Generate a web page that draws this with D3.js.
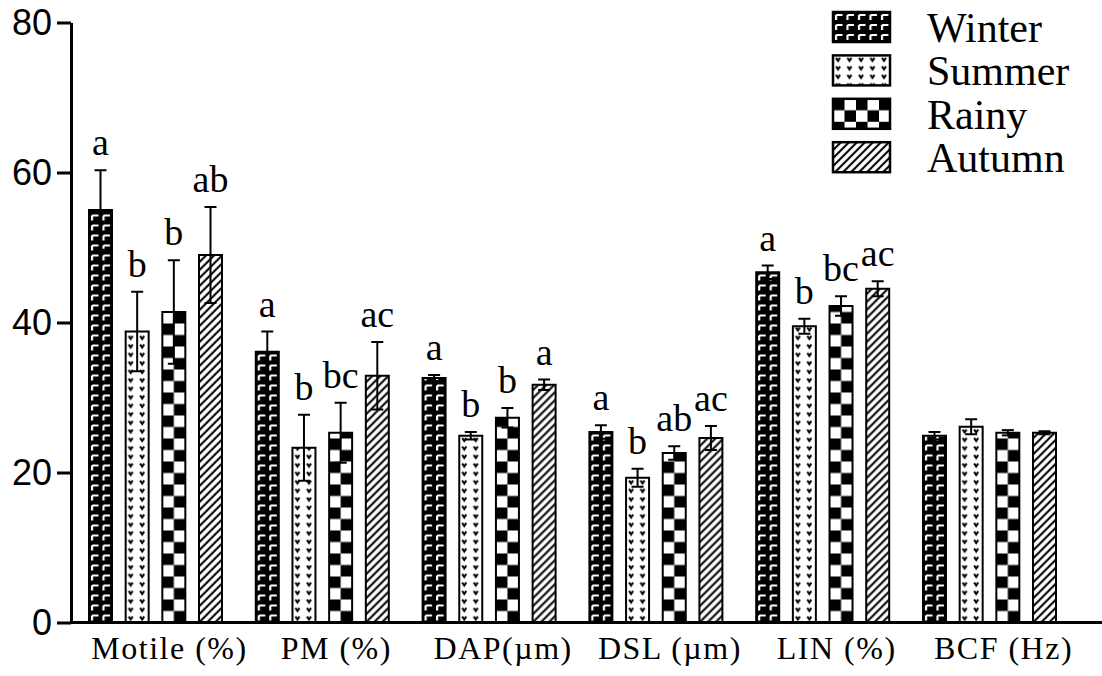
<!DOCTYPE html>
<html>
<head>
<meta charset="utf-8">
<script src="https://cdn.jsdelivr.net/npm/d3@7"></script>
<style>
  body { margin: 0; background: #fff; }
  svg { display: block; }
</style>
</head>
<body>
<div id="chart"></div>
<script>
var categories = ["Motile (%)", "PM (%)", "DAP(\u00b5m)", "DSL (\u00b5m)", "LIN (%)", "BCF (Hz)"];
var seasons = ["Winter", "Summer", "Rainy", "Autumn"];
var winter = [55.0, 36.1, 32.6, 25.4, 46.7, 24.9];
var winterErr = [5.3, 2.7, 0.4, 0.9, 0.9, 0.5];
var summer = [38.8, 23.3, 24.9, 19.3, 39.5, 26.1];
var summerErr = [5.3, 4.4, 0.5, 1.2, 1.0, 1.0];
var rainy = [41.4, 25.3, 27.3, 22.6, 42.2, 25.3];
var rainyErr = [6.9, 4.0, 1.3, 0.9, 1.3, 0.35];
var autumn = [49.0, 32.9, 31.7, 24.6, 44.5, 25.3];
var autumnErr = [6.4, 4.5, 0.7, 1.6, 1.0, 0.2];
var letters = [
  ["a", "b", "b", "ab"],
  ["a", "b", "bc", "ac"],
  ["a", "b", "b", "a"],
  ["a", "b", "ab", "ac"],
  ["a", "b", "bc", "ac"],
  ["", "", "", ""]
];
var yTicks = [0, 20, 40, 60, 80];

var width = 1102, height = 676;
var values = [winter, summer, rainy, autumn];
var errs = [winterErr, summerErr, rainyErr, autumnErr];

var svg = d3.select("#chart").append("svg").attr("width", width).attr("height", height);

// fill patterns, one per season
var defs = svg.append("defs");
var p1 = defs.append("pattern").attr("id", "pat0").attr("patternUnits", "userSpaceOnUse")
  .attr("width", 11.5).attr("height", 10);
p1.append("rect").attr("width", 11.5).attr("height", 10).attr("fill", "#000");
p1.append("path").attr("d", "M3,3 H9.5 M3,3 V8").attr("stroke", "#fff").attr("stroke-width", 2.2).attr("fill", "none");

var p2 = defs.append("pattern").attr("id", "pat1").attr("patternUnits", "userSpaceOnUse")
  .attr("width", 11.5).attr("height", 8.5);
p2.append("rect").attr("width", 11.5).attr("height", 8.5).attr("fill", "#fff");
p2.append("path").attr("d", "M3,2.5 L5,5.5 L7,2.5").attr("stroke", "#000").attr("stroke-width", 2).attr("fill", "none");

var p3 = defs.append("pattern").attr("id", "pat2").attr("patternUnits", "userSpaceOnUse")
  .attr("width", 23).attr("height", 23);
p3.append("rect").attr("width", 23).attr("height", 23).attr("fill", "#fff");
p3.append("rect").attr("width", 11.5).attr("height", 11.5).attr("fill", "#000");
p3.append("rect").attr("x", 11.5).attr("y", 11.5).attr("width", 11.5).attr("height", 11.5).attr("fill", "#000");

var p4 = defs.append("pattern").attr("id", "pat3").attr("patternUnits", "userSpaceOnUse")
  .attr("width", 8).attr("height", 8);
p4.append("rect").attr("width", 8).attr("height", 8).attr("fill", "#fff");
p4.append("path").attr("d", "M-2,10 L10,-2 M-2,2 L2,-2 M6,10 L10,6").attr("stroke", "#000").attr("stroke-width", 2);

var x0 = d3.scaleBand().domain(categories).range([89, 1056]).paddingInner(0.2026).paddingOuter(0);
var x1 = d3.scaleBand().domain(seasons).range([0, x0.bandwidth()]).paddingInner(0.373);
var y = d3.scaleLinear().domain([0, 80]).range([622.5, 22.5]);

// bars, error bars and letters
categories.forEach(function(c, ci) {
  seasons.forEach(function(s, si) {
    var v = values[si][ci], e = errs[si][ci];
    var bx = x0(c) + x1(s);
    var g = svg.append("g").attr("transform", "translate(" + bx + "," + y(0) + ")");
    g.append("rect")
      .attr("x", 0).attr("y", y(v) - y(0))
      .attr("width", x1.bandwidth()).attr("height", y(0) - y(v))
      .attr("fill", "url(#pat" + si + ")")
      .attr("stroke", "#000").attr("stroke-width", 2);
    var cx = bx + x1.bandwidth() / 2;
    var eb = svg.append("g").attr("stroke", "#000").attr("stroke-width", 2);
    eb.append("line").attr("x1", cx).attr("x2", cx).attr("y1", y(v + e)).attr("y2", y(v - e));
    eb.append("line").attr("x1", cx - 6).attr("x2", cx + 6).attr("y1", y(v + e)).attr("y2", y(v + e));
    eb.append("line").attr("x1", cx - 6).attr("x2", cx + 6).attr("y1", y(v - e)).attr("y2", y(v - e));
    if (letters[ci][si]) {
      svg.append("text").attr("x", cx).attr("y", y(v + e) - 15)
        .attr("text-anchor", "middle")
        .style("font-family", "'Liberation Serif', serif").style("font-size", "38px")
        .text(letters[ci][si]);
    }
  });
});

// axes
var yAxis = svg.append("g").attr("transform", "translate(71,0)")
  .call(d3.axisLeft(y).tickValues(yTicks).tickSize(14).tickSizeOuter(0).tickPadding(5));
yAxis.selectAll("path, line").attr("stroke", "#000").attr("stroke-width", 3);
yAxis.selectAll("text").style("font-family", "'Liberation Sans', Arial, sans-serif").style("font-size", "36px").attr("fill", "#000");

svg.append("line").attr("x1", 70).attr("x2", width).attr("y1", y(0)).attr("y2", y(0))
  .attr("stroke", "#000").attr("stroke-width", 3);

svg.selectAll(".cat").data(categories).enter().append("text")
  .attr("class", "cat")
  .attr("x", function(d) { return x0(d) + x0.bandwidth() / 2 + 14; })
  .attr("y", 659)
  .attr("text-anchor", "middle")
  .style("font-family", "'Liberation Serif', serif").style("font-size", "32px")
  .style("letter-spacing", "1.5px")
  .text(function(d) { return d; });

// legend
var leg = svg.selectAll(".leg").data(seasons).enter().append("g")
  .attr("class", "leg")
  .attr("transform", function(d, i) { return "translate(833," + (12 + i * 43.4) + ")"; });
leg.append("rect").attr("width", 57).attr("height", 30)
  .attr("fill", function(d, i) { return "url(#pat" + i + ")"; })
  .attr("stroke", "#000").attr("stroke-width", 2.5);
leg.append("text").attr("x", 94).attr("y", 30)
  .style("font-family", "'Liberation Serif', serif").style("font-size", "42px")
  .text(function(d) { return d; });
</script>
</body>
</html>
